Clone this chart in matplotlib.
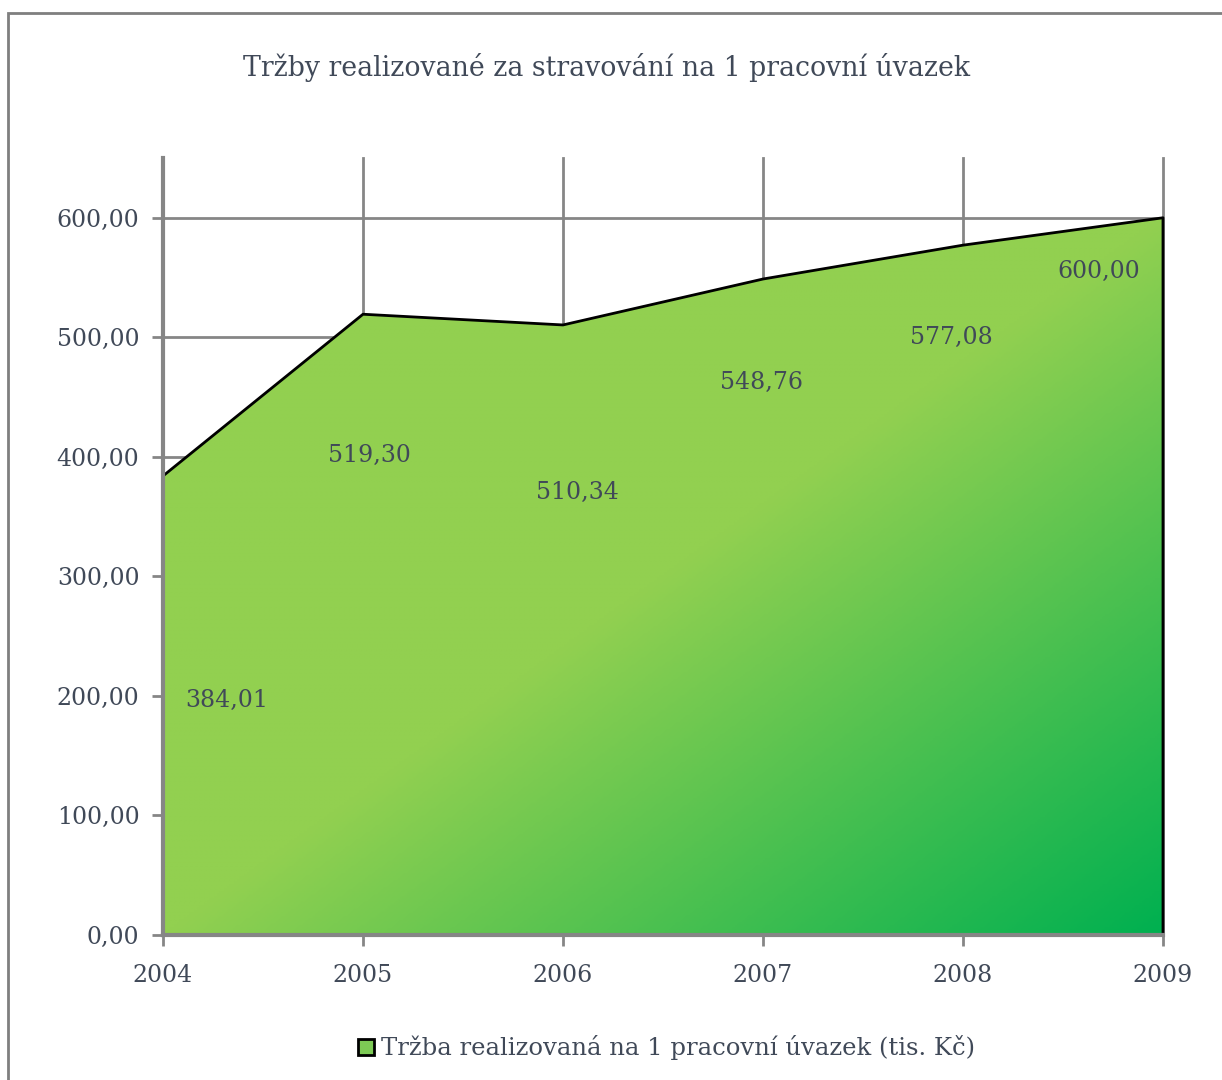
import numpy as np
import matplotlib
matplotlib.use("Agg")
import matplotlib.pyplot as plt
from matplotlib.colors import LinearSegmentedColormap
from matplotlib.patches import Rectangle

# data
years = [2004, 2005, 2006, 2007, 2008, 2009]
values = [384.01, 519.30, 510.34, 548.76, 577.08, 600.00]
labels = ["384,01", "519,30", "510,34", "548,76", "577,08", "600,00"]
# where the data labels sit (x, y in data units)
label_pos = [(2004.32, 196), (2005.03, 401), (2006.07, 370),
             (2006.99, 462), (2007.94, 500), (2008.68, 555)]

title = "Tržby realizované za stravování na 1 pracovní úvazek"
legend_text = "Tržba realizovaná na 1 pracovní úvazek (tis. Kč)"

plt.rcParams['font.family'] = ['DejaVu Serif']
text_color = '#404958'
grid_color = '#868686'

fig = plt.figure(figsize=(12.22, 10.8), dpi=100)
ax = fig.add_axes([163 / 1222, 1 - 935 / 1080, 1000 / 1222, 777 / 1080])

# area outline
poly = ax.fill_between(years, values, 0, facecolor='none', edgecolor='black',
                       linewidth=2, zorder=3)
poly.set_clip_on(False)

# diagonal gradient fill: light green top-left -> dark green bottom-right
light = '#92d050'
dark = '#00b050'
cmap = LinearSegmentedColormap.from_list('g', [(0, light), (0.5, light), (1, dark)])
nx, ny = 400, 300
u = np.linspace(0, 1, nx)
v = np.linspace(0, 1, ny)  # image row 0 = top
U, V = np.meshgrid(u, v)
T = (U + V) / 2
im = ax.imshow(T, cmap=cmap, vmin=0, vmax=1, extent=(years[0], years[-1], 0, max(values)),
               origin='upper', aspect='auto', zorder=2, interpolation='bilinear')
im.set_clip_path(poly.get_paths()[0], transform=ax.transData)

for (lx, ly), txt in zip(label_pos, labels):
    ax.text(lx, ly, txt, ha='center', va='center', fontsize=17, color=text_color, zorder=4)

ax.set_xlim(years[0], years[-1])
ax.set_ylim(0, 650)
ax.set_xticks(years)
ax.set_yticks(np.arange(0, 700, 100))
ax.set_yticklabels([f"{t:.2f}".replace('.', ',') for t in np.arange(0, 700, 100)])
ax.grid(True, color=grid_color, linewidth=2)
ax.set_axisbelow(True)
for gl in ax.get_xgridlines():
    gl.set_clip_on(False)

for side in ['top', 'right']:
    ax.spines[side].set_visible(False)
for side in ['left', 'bottom']:
    ax.spines[side].set_color(grid_color)
    ax.spines[side].set_linewidth(3)
    ax.spines[side].set_zorder(5)
ax.tick_params(axis='both', colors=grid_color, width=2, length=8, labelcolor=text_color,
               labelsize=17)
ax.tick_params(axis='x', pad=13)
ax.tick_params(axis='y', pad=9)

fig.text(607 / 1222, 1 - 68 / 1080, title, ha='center', va='center', fontsize=19.3,
         color=text_color)

# legend
fig.patches.append(Rectangle((358 / 1222, 1 - 1055 / 1080), 16 / 1222, 16 / 1080,
                             transform=fig.transFigure, facecolor='#7dca55',
                             edgecolor='black', linewidth=2))
fig.text(381 / 1222, 1 - 1047 / 1080, legend_text, ha='left', va='center', fontsize=17.5,
         color=text_color)

# outer frame (cut off at right and bottom)
fig.patches.append(Rectangle((8 / 1222, -0.1), 1.2, 1.1 - 13 / 1080,
                             transform=fig.transFigure, facecolor='none',
                             edgecolor='#7f7f7f', linewidth=2))

fig.savefig('out.png', dpi=100)
